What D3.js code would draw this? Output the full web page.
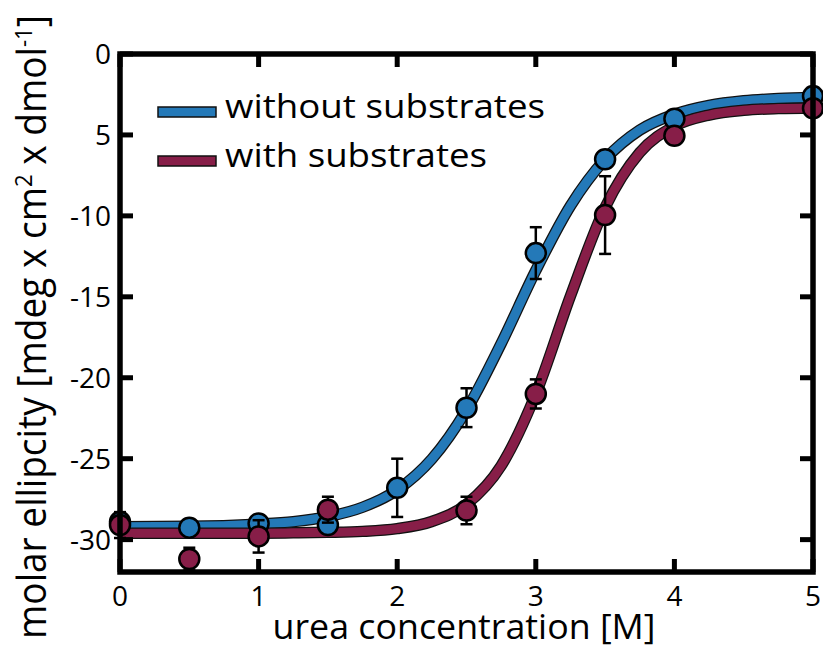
<!DOCTYPE html>
<html>
<head>
<meta charset="utf-8">
<script src="https://cdn.jsdelivr.net/npm/d3@7"></script>
<style>
  body { margin: 0; background: #fff; }
  text { font-family: "Open Sans", "Noto Sans", sans-serif; fill: #000; }
</style>
</head>
<body>
<script>
//chart values
var ureaX = [0, 0.5, 1, 1.5, 2, 2.5, 3, 3.5, 4, 5];
var withoutVals = [-28.9, -29.26, -29.0, -29.1, -26.8, -21.85, -12.3, -6.5, -4.0, -2.6];
var withoutErr  = [0.5, 0.2, 0.3, 0.4, 1.8, 1.2, 1.6, 0.3, 0.3, 0.4];
var withX = [0, 0.5, 1, 1.5, 2.5, 3, 3.5, 4, 5];
var withVals = [-29.1, -31.2, -29.8, -28.15, -28.2, -21.0, -9.95, -5.05, -3.35];
var withErr  = [0.8, 0.7, 1.0, 0.8, 0.85, 0.9, 2.4, 0.3, 0.3];

//fitted curves
var fitX = [0, 0.5, 1, 1.25, 1.5, 1.75, 2, 2.25, 2.5, 2.75, 3, 3.25, 3.5, 3.75, 4, 4.25, 4.5, 4.75, 5];
var fitWithout = [-29.2, -29.18, -29.04, -28.89, -28.58, -28.0, -26.93, -25.02, -21.99, -17.89, -13.37, -9.38, -6.51, -4.7, -3.72, -3.17, -2.89, -2.75, -2.68];
var fitWith = [-29.6, -29.6, -29.6, -29.58, -29.55, -29.49, -29.32, -28.88, -27.82, -25.44, -21.0, -14.95, -9.48, -6.09, -4.46, -3.77, -3.48, -3.37, -3.33];

var xTicks = [0, 1, 2, 3, 4, 5];
var yTicks = [0, -5, -10, -15, -20, -25, -30];
var yTickLabels = ['0', '5', '-10', '-15', '-20', '-25', '-30'];
var legendLabels = ['without substrates', 'with substrates'];
var colors = ['#2479b8', '#871e48'];

var width = 823, height = 650;
var margin = {left: 120, right: 10, top: 54, bottom: 78};

var svg = d3.select('body').append('svg')
  .attr('width', width)
  .attr('height', height);

var x = d3.scaleLinear().domain([0, 5]).range([margin.left, width - margin.right]);
var y = d3.scaleLinear().domain([-32, 0]).range([height - margin.bottom, margin.top]);

//fit lines: black outline then colour
var line = d3.line()
  .x(function(d) { return x(d[0]); })
  .y(function(d) { return y(d[1]); })
  .curve(d3.curveMonotoneX);

var fits = [d3.zip(fitX, fitWithout), d3.zip(fitX, fitWith)];
var lines = svg.append('g');
fits.forEach(function(f, i) {
  lines.append('path').datum(f)
    .attr('d', line).attr('fill', 'none')
    .attr('stroke', '#111').attr('stroke-width', 11.5);
  lines.append('path').datum(f)
    .attr('d', line).attr('fill', 'none')
    .attr('stroke', colors[i]).attr('stroke-width', 9);
});

//points with error bars
var sets = [
  {xs: ureaX, vs: withoutVals, es: withoutErr, c: colors[0]},
  {xs: withX, vs: withVals, es: withErr, c: colors[1]}
];
sets.forEach(function(s) {
  var data = s.xs.map(function(d, i) { return {x: d, v: s.vs[i], e: s.es[i]}; });
  var g = svg.append('g');
  var eb = g.selectAll('g.err').data(data).enter().append('g')
    .attr('stroke', '#000').attr('stroke-width', 2.5);
  eb.append('line')
    .attr('x1', function(d) { return x(d.x); }).attr('x2', function(d) { return x(d.x); })
    .attr('y1', function(d) { return y(d.v - d.e); }).attr('y2', function(d) { return y(d.v + d.e); });
  eb.append('line')
    .attr('x1', function(d) { return x(d.x) - 6; }).attr('x2', function(d) { return x(d.x) + 6; })
    .attr('y1', function(d) { return y(d.v - d.e); }).attr('y2', function(d) { return y(d.v - d.e); });
  eb.append('line')
    .attr('x1', function(d) { return x(d.x) - 6; }).attr('x2', function(d) { return x(d.x) + 6; })
    .attr('y1', function(d) { return y(d.v + d.e); }).attr('y2', function(d) { return y(d.v + d.e); });
  g.selectAll('circle').data(data).enter().append('circle')
    .attr('cx', function(d) { return x(d.x); })
    .attr('cy', function(d) { return y(d.v); })
    .attr('r', 10)
    .attr('fill', s.c)
    .attr('stroke', '#000').attr('stroke-width', 2.5);
});

//frame with inward ticks on all sides
var x0 = x.range()[0], x1 = x.range()[1], y0 = y.range()[1], y1 = y.range()[0];
svg.append('rect')
  .attr('x', x0).attr('y', y0)
  .attr('width', x1 - x0).attr('height', y1 - y0)
  .attr('fill', 'none').attr('stroke', '#000').attr('stroke-width', 5.5);

var tk = svg.append('g').attr('stroke', '#000').attr('stroke-width', 5);
xTicks.forEach(function(t) {
  tk.append('line').attr('x1', x(t)).attr('x2', x(t)).attr('y1', y1).attr('y2', y1 - 13);
  tk.append('line').attr('x1', x(t)).attr('x2', x(t)).attr('y1', y0).attr('y2', y0 + 13);
});
yTicks.forEach(function(t) {
  tk.append('line').attr('x1', x0).attr('x2', x0 + 13).attr('y1', y(t)).attr('y2', y(t));
  tk.append('line').attr('x1', x1).attr('x2', x1 - 13).attr('y1', y(t)).attr('y2', y(t));
});

//tick labels
svg.append('g').selectAll('text').data(xTicks).enter().append('text')
  .attr('x', function(d) { return x(d); })
  .attr('y', y1 + 34)
  .attr('text-anchor', 'middle')
  .attr('font-size', 28)
  .text(function(d) { return d; });

svg.append('g').selectAll('text').data(yTicks).enter().append('text')
  .attr('x', x0 - 9)
  .attr('y', function(d) { return y(d) + 10; })
  .attr('text-anchor', 'end')
  .attr('font-size', 28)
  .text(function(d, i) { return yTickLabels[i]; });

//axis titles
svg.append('text')
  .attr('x', 464)
  .attr('y', 639)
  .attr('text-anchor', 'middle')
  .attr('font-size', 35)
  .attr('textLength', 383)
  .attr('lengthAdjust', 'spacingAndGlyphs')
  .text('urea concentration [M]');

var yl = svg.append('text')
  .attr('text-anchor', 'middle')
  .attr('font-size', 40);
yl.append('tspan').text('molar ellipcity [mdeg x cm');
yl.append('tspan').attr('font-size', 24).attr('dy', -14).text('2');
yl.append('tspan').attr('dy', 14).text(' x dmol');
yl.append('tspan').attr('font-size', 24).attr('dy', -14).text('-1');
yl.append('tspan').attr('dy', 14).text(']');
//squeeze the title along its length to fit the height
var ylw = yl.node().getBBox().width;
yl.attr('transform', 'translate(46,327) rotate(-90) scale(' + (624 / ylw) + ',1)');

//legend
var lg = svg.append('g');
legendLabels.forEach(function(l, i) {
  var ly = 112 + i * 49;
  lg.append('rect')
    .attr('x', 158).attr('y', ly - 5)
    .attr('width', 58).attr('height', 10)
    .attr('fill', colors[i]).attr('stroke', '#111').attr('stroke-width', 1.5);
  lg.append('text')
    .attr('x', 225).attr('y', ly + 6)
    .attr('font-size', 33)
    .attr('textLength', i === 0 ? 320 : 262)
    .attr('lengthAdjust', 'spacingAndGlyphs')
    .text(l);
});
</script>
</body>
</html>
